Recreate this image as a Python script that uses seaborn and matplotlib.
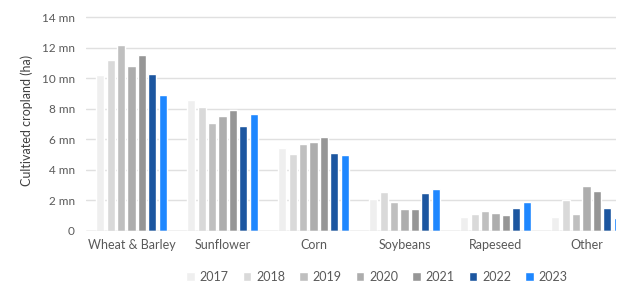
import pandas as pd
import matplotlib.pyplot as plt
import seaborn as sns

# Crops and years
crops = ['Wheat & Barley', 'Sunflower', 'Corn', 'Soybeans', 'Rapeseed', 'Other']
years = ['2017', '2018', '2019', '2020', '2021', '2022', '2023']

# Cultivated cropland, million ha
y2017 = [10.2, 8.6, 5.4, 2.05, 0.9, 0.9]
y2018 = [11.2, 8.1, 5.0, 2.55, 1.1, 2.0]
y2019 = [12.2, 7.05, 5.7, 1.9, 1.3, 1.1]
y2020 = [10.8, 7.5, 5.8, 1.4, 1.15, 2.95]
y2021 = [11.5, 7.9, 6.15, 1.4, 1.05, 2.6]
y2022 = [10.25, 6.85, 5.1, 2.45, 1.5, 1.45]
y2023 = [8.9, 7.65, 4.95, 2.7, 1.85, 0.8]

colors = ['#efefef', '#d9d9d9', '#bfbfbf', '#adadad', '#969696', '#1c56a0', '#1e87ff']

values = [y2017, y2018, y2019, y2020, y2021, y2022, y2023]
rows = []
for year, vals in zip(years, values):
    for crop, v in zip(crops, vals):
        rows.append({'Crop': crop, 'Year': year, 'Area': v})
df = pd.DataFrame(rows)

sns.set_theme(style='white')
plt.rcParams['font.family'] = ['Lato', 'DejaVu Sans']

fig = plt.figure(figsize=(6.18, 2.85), dpi=100)
# axes runs past the right edge of the picture, like the original crop
ax = fig.add_axes([86 / 618, 54.5 / 285, 530 / 618, 220.8 / 285])

sns.barplot(data=df, x='Crop', y='Area', hue='Year', order=crops, hue_order=years,
            palette=colors, saturation=1, width=0.8, gap=0.22, ax=ax, legend=True)

ax.set_xlim(-0.5, 5.5 - 16 / 91)
ax.set_ylim(0, 14.5)
ax.set_yticks(range(0, 15, 2))
ax.set_yticklabels(['0'] + [f'{t} mn' for t in range(2, 15, 2)])
ax.yaxis.grid(True, color='#e0e0e0', linewidth=1)
ax.set_axisbelow(True)
for s in ax.spines.values():
    s.set_visible(False)
ax.axhline(0, color='#d9d9d9', linewidth=1)

ax.tick_params(axis='y', length=0, labelsize=8.5, labelcolor='#595959', pad=8)
ax.tick_params(axis='x', length=0, labelsize=9, labelcolor='#595959', pad=6)
ax.set_xlabel('')
ax.set_ylabel('Cultivated cropland (ha)', fontsize=9, color='#404040', labelpad=6)

handles, labels = ax.get_legend_handles_labels()
ax.get_legend().remove()
fig.legend(handles, labels, loc='center', bbox_to_anchor=(377 / 618, 7 / 285 + 0.005),
           ncol=7, frameon=False, fontsize=9, handlelength=0.7, handleheight=0.7,
           handletextpad=0.4, columnspacing=1.1, labelcolor='#595959')

fig.savefig('out.png', dpi=100)
